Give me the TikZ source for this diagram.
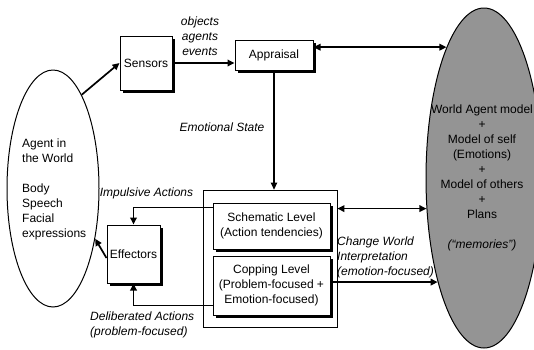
\documentclass[tikz,border=0pt]{standalone}
\usepackage{fontspec}
\setmainfont{Liberation Sans}
\usetikzlibrary{arrows.meta,shadows,calc,shapes.geometric}
\begin{document}
\begin{tikzpicture}[x=1pt,y=-1pt,
  font=\fontsize{12}{15}\selectfont,
  box/.style={draw, fill=white, line width=1pt, inner sep=0pt, align=center,
    drop shadow={shadow xshift=2.5pt, shadow yshift=-2.5pt, fill=black, opacity=1}},
  conn/.style={line width=1.7pt, -{Triangle[length=7pt,width=6.5pt]}},
  conntwo/.style={line width=1.7pt, {Triangle[length=7pt,width=6.5pt]}-{Triangle[length=7pt,width=6.5pt]}},
  lab/.style={font=\fontsize{12}{15}\selectfont\itshape, inner sep=0pt, align=left},
  txt/.style={inner sep=0pt, align=left}
]
\useasboundingbox (0,0) rectangle (534,349);
\begin{scope}
  \clip (0,0) rectangle (534,349);
  \node (mem) [ellipse, draw, line width=1pt, fill=black!42, minimum width=116pt, minimum height=340pt, inner sep=0pt] at (484,178) {};
\end{scope}
\node (memtext) [align=center, inner sep=0pt] at (482,177.5)
  {World Agent model\\+\\Model of self\\(Emotions)\\+\\Model of others\\+\\Plans\\[15pt]\itshape(``memories'')};

\node (world) [ellipse, draw, line width=1pt, minimum width=92pt, minimum height=237pt, inner sep=0pt] at (53,188.5) {};
\node (worldA) [txt, anchor=west] at (22,151) {Agent in\\the World};
\node (worldB) [txt, anchor=west] at (22,212) {Body\\Speech\\Facial\\expressions};

\node (outer) [draw, line width=0.8pt, minimum width=134pt, minimum height=137pt, inner sep=0pt] at (270,258.5) {};

\node (sensors) [box, minimum width=52pt, minimum height=54pt] at (146,63) {Sensors};
\node (appraisal) [box, minimum width=78pt, minimum height=30pt] at (274,55) {Appraisal};
\node (effectors) [box, minimum width=53pt, minimum height=58pt] at (133.5,254) {Effectors};
\node (schematic) [box, minimum width=117pt, minimum height=46pt] at (271.5,226) {Schematic Level\\(Action tendencies)};
\node (copping) [box, minimum width=117pt, minimum height=59pt] at (271.5,285.5) {Copping Level\\(Problem-focused +\\Emotion-focused)};

\node (lobj) [lab, align=center] at (200,36) {objects\\agents\\events};
\node (lemo) [lab] at (222,127) {Emotional State};
\node (limp) [lab] at (146.5,193) {Impulsive Actions};
\node (ldel) [lab, anchor=west] at (90,325) {Deliberated Actions\\(problem-focused)};
\node (lchg) [lab, anchor=west] at (337,257) {Change World\\Interpretation\\(emotion-focused)};

\draw[conn] (world.73) -- (sensors.west);
\draw[conn] (sensors.east) -- (sensors.east -| appraisal.west);
\draw[conntwo] (mem.106 -| appraisal.east) -- (mem.106);
\draw[line width=1.1pt, -{Triangle[length=7pt,width=6.5pt]}] (appraisal.south) -- (appraisal.south |- outer.north);
\draw[conntwo] (mem.208 -| outer.east) -- (mem.208);
\draw[conn] (mem.246 -| copping.east) -- (mem.246);
\draw[conn] ($(schematic.north west)+(0,5)$) -| (effectors.north);
\draw[conn] ($(copping.south west)+(0,-10)$) -| (effectors.south);
\draw[conn] ($(effectors.west)+(0,4)$) -- (world.310);
\end{tikzpicture}
\end{document}
